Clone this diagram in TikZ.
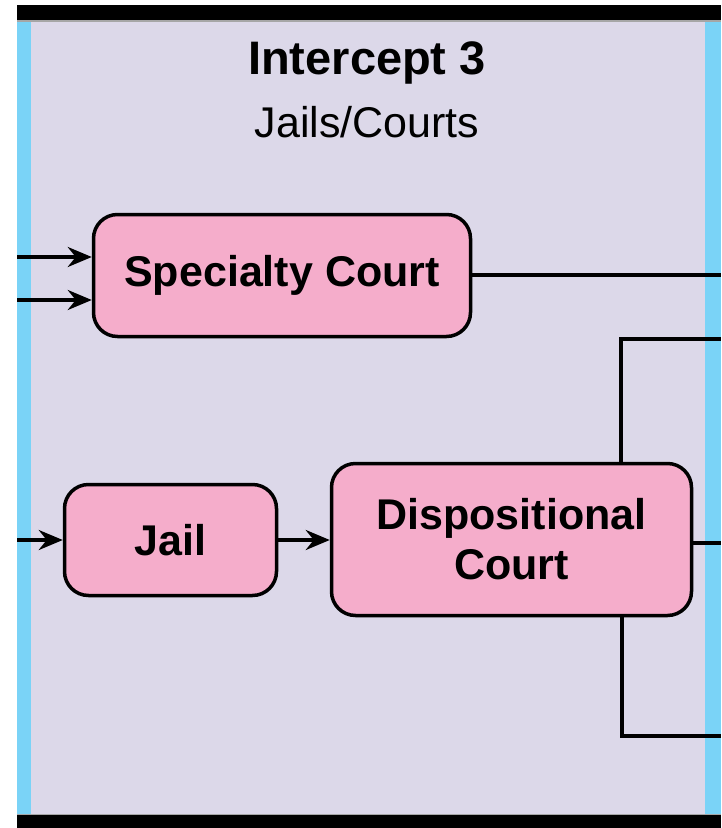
\documentclass[tikz,border=0pt]{standalone}
\usepackage{fontspec}
\setmainfont{Liberation Sans}
\usetikzlibrary{arrows.meta}
\definecolor{lav}{RGB}{220,216,233}
\definecolor{pinkbox}{RGB}{245,173,203}
\definecolor{stripblue}{RGB}{122,211,247}
\tikzset{
  procbox/.style={draw=black, line width=3.5pt, fill=pinkbox, rounded corners=24pt,
    font=\fontsize{43}{50}\selectfont\bfseries, align=center, inner sep=0pt},
  conn/.style={line width=3.5pt, black},
  arr/.style={conn, -{Stealth[length=24pt,width=20pt,inset=8pt]}},
}
\begin{document}
\begin{tikzpicture}[x=1pt,y=-1pt]
\useasboundingbox (0,0) rectangle (721,828);
\fill[white] (0,0) rectangle (721,828);
% background panel
\fill[lav] (17,20) rectangle (721,815);
\fill[stripblue] (17,20) rectangle (31,815);
\fill[stripblue] (705,20) rectangle (721,815);
\fill[black] (17,5) rectangle (721,20);
\fill[black] (17,815) rectangle (721,828);
\fill[gray!70] (17,20) rectangle (721,21.5);
\fill[gray!70] (17,813.5) rectangle (721,815);
% titles
\node[font=\fontsize{47}{52}\selectfont\bfseries] (title) at (367,63) {Intercept 3};
\node[font=\fontsize{43}{50}\selectfont] (sub) at (367,122) {Jails/Courts};
% boxes
\node[procbox, minimum width=377pt, minimum height=122pt] (spec) at (282,275.5) {Specialty Court};
\node[procbox, minimum width=212pt, minimum height=111pt] (jail) at (170.5,540) {Jail};
\node[procbox, minimum width=360pt, minimum height=152pt] (disp) at (511.5,539.5) {Dispositional\\Court};
% free ends
\coordinate (in1) at (17,257);
\coordinate (in2) at (17,300);
\coordinate (in3) at (17,540);
\coordinate (o1) at (721,275);
\coordinate (o2) at (721,339);
\coordinate (o3) at (721,543);
\coordinate (o4) at (721,736);
% connectors
\draw[arr] (in1) -- (spec.west |- in1);
\draw[arr] (in2) -- (spec.west |- in2);
\draw[arr] (in3) -- (jail.west |- in3);
\draw[arr] (jail.east) -- (disp.west |- jail.east);
\draw[conn] (spec.east |- o1) -- (o1);
\draw[conn] (disp.north -| 621,0) -- (621,339) -- (o2);
\draw[conn] (disp.east |- o3) -- (o3);
\draw[conn] (disp.south -| 622,0) -- (622,736) -- (o4);
\end{tikzpicture}
\end{document}
